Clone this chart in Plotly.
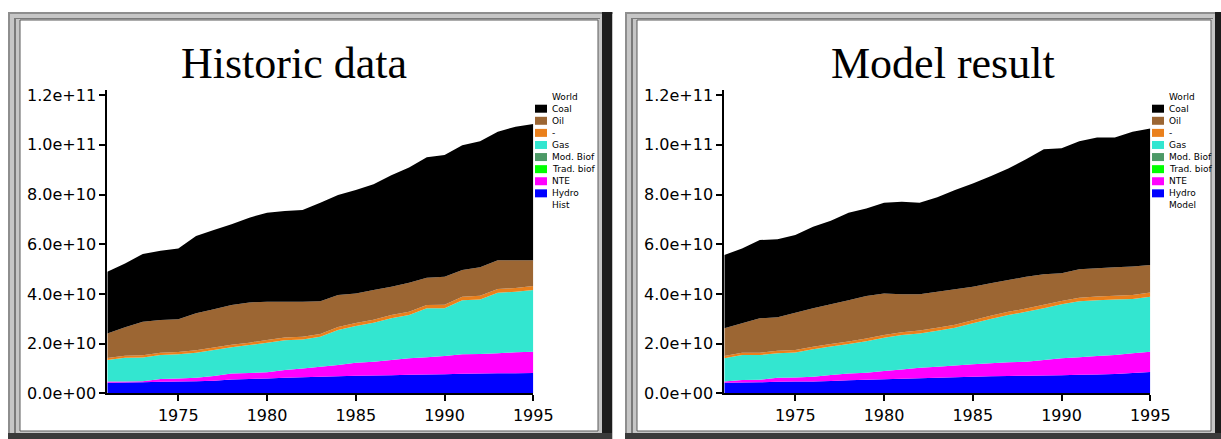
import plotly.graph_objects as go

W, H = 1221, 439
E10 = 1e10

years = list(range(1971, 1996))

# legend order (top to bottom); stacking goes the other way round
series_names = ["Coal", "Oil", "-", "Gas", "Mod. Biof", "Trad. biof", "NTE", "Hydro"]
series_colors = ["#000000", "#9c6633", "#ea801c", "#33e6d0", "#4c9966", "#00ff00", "#ff00ff", "#0000ff"]

panel_titles = ["Historic data", "Model result"]
panel_tags = ["Hist", "Model"]
legend_title = "World"

x_tick_vals = [1975, 1980, 1985, 1990, 1995]
y_tick_vals = [0, 2e10, 4e10, 6e10, 8e10, 1e11, 1.2e11]
y_tick_text = ["0.0e+00", "2.0e+10", "4.0e+10", "6.0e+10", "8.0e+10", "1.0e+11", "1.2e+11"]

# historic energy supply by carrier, in units of 1e10
hist_coal = [2.48, 2.57, 2.73, 2.79, 2.85, 3.11, 3.19, 3.26, 3.41, 3.58, 3.65, 3.69, 3.96,
             4.02, 4.16, 4.26, 4.49, 4.64, 4.85, 4.90, 5.03, 5.08, 5.17, 5.37, 5.48]
hist_oil = [0.99, 1.15, 1.35, 1.32, 1.32, 1.49, 1.54, 1.60, 1.62, 1.54, 1.44, 1.41, 1.32,
            1.29, 1.19, 1.20, 1.14, 1.17, 1.10, 1.13, 1.07, 1.14, 1.16, 1.12, 1.04]
hist_dash = [0.08, 0.08, 0.09, 0.09, 0.09, 0.10, 0.10, 0.10, 0.10, 0.11, 0.11, 0.11, 0.11,
             0.12, 0.12, 0.12, 0.13, 0.13, 0.13, 0.14, 0.14, 0.15, 0.15, 0.15, 0.16]
hist_gas = [0.87, 0.95, 0.95, 0.96, 0.97, 1.00, 1.04, 1.05, 1.12, 1.19, 1.20, 1.17, 1.21,
            1.41, 1.48, 1.57, 1.68, 1.74, 1.97, 1.92, 2.18, 2.20, 2.44, 2.44, 2.49]
hist_mod_biof = [0.0] * 25
hist_trad_biof = [0.0] * 25
hist_nte = [0.05, 0.05, 0.05, 0.12, 0.12, 0.14, 0.19, 0.24, 0.24, 0.25, 0.31, 0.35, 0.40,
            0.45, 0.52, 0.55, 0.61, 0.66, 0.69, 0.73, 0.78, 0.78, 0.80, 0.84, 0.85]
hist_hydro = [0.42, 0.43, 0.44, 0.46, 0.48, 0.49, 0.51, 0.56, 0.58, 0.60, 0.63, 0.65, 0.67,
              0.69, 0.71, 0.72, 0.73, 0.75, 0.76, 0.77, 0.79, 0.80, 0.81, 0.81, 0.82]

# model run, same carriers, units of 1e10
model_coal = [2.95, 3.01, 3.15, 3.14, 3.13, 3.28, 3.37, 3.52, 3.52, 3.65, 3.72, 3.68, 3.80,
              3.99, 4.16, 4.31, 4.49, 4.73, 5.03, 5.03, 5.16, 5.27, 5.23, 5.43, 5.50]
model_oil = [1.12, 1.19, 1.39, 1.35, 1.50, 1.55, 1.60, 1.66, 1.71, 1.67, 1.53, 1.46, 1.45,
             1.43, 1.35, 1.31, 1.28, 1.28, 1.23, 1.11, 1.14, 1.13, 1.14, 1.14, 1.10]
model_dash = [0.09, 0.09, 0.09, 0.10, 0.10, 0.10, 0.10, 0.11, 0.11, 0.11, 0.11, 0.12, 0.12,
              0.12, 0.12, 0.13, 0.13, 0.13, 0.14, 0.14, 0.14, 0.15, 0.15, 0.16, 0.17]
model_gas = [0.94, 1.00, 0.99, 0.98, 1.00, 1.10, 1.14, 1.18, 1.27, 1.34, 1.39, 1.38, 1.45,
             1.52, 1.65, 1.78, 1.90, 2.01, 2.08, 2.17, 2.26, 2.25, 2.24, 2.19, 2.22]
model_mod_biof = [0.0] * 25
model_trad_biof = [0.0] * 25
model_nte = [0.05, 0.11, 0.11, 0.17, 0.17, 0.19, 0.24, 0.27, 0.28, 0.33, 0.37, 0.42, 0.44,
             0.47, 0.50, 0.52, 0.55, 0.56, 0.62, 0.68, 0.70, 0.74, 0.76, 0.79, 0.81]
model_hydro = [0.42, 0.43, 0.44, 0.46, 0.47, 0.48, 0.50, 0.53, 0.55, 0.57, 0.59, 0.61, 0.63,
               0.65, 0.67, 0.69, 0.70, 0.71, 0.72, 0.73, 0.75, 0.76, 0.78, 0.82, 0.86]

hist_series = [hist_coal, hist_oil, hist_dash, hist_gas, hist_mod_biof, hist_trad_biof, hist_nte, hist_hydro]
model_series = [model_coal, model_oil, model_dash, model_gas, model_mod_biof, model_trad_biof, model_nte, model_hydro]

PANEL_DX = 617  # horizontal offset of the second panel, px
FRAME_RIGHT = [598, 1211]  # right edge of each panel's white face, px


def px_rect(x0, y0, x1, y1, color, line=None):
    """Rectangle in page pixels (origin top-left) -> paper-referenced shape."""
    shp = dict(type="rect", xref="paper", yref="paper", layer="below",
               x0=x0 / W, x1=x1 / W, y0=1 - y1 / H, y1=1 - y0 / H,
               fillcolor=color, line=dict(width=0))
    if line:
        shp["line"] = dict(width=1, color=line)
    return shp


fig = go.Figure()
shapes = []
annotations = []

for p, (series, title, tag) in enumerate(zip([hist_series, model_series], panel_titles, panel_tags)):
    dx = p * PANEL_DX
    fr = FRAME_RIGHT[p]
    xa = "x" if p == 0 else "x2"
    ya = "y" if p == 0 else "y2"

    # stacked areas, Hydro at the bottom and Coal on top
    for name, color, vals in reversed(list(zip(series_names, series_colors, series))):
        fig.add_trace(go.Scatter(
            x=years, y=[v * E10 for v in vals], name=name,
            mode="none", fill="tonexty", fillcolor=color,
            stackgroup=f"g{p}", xaxis=xa, yaxis=ya, showlegend=False,
            hoverinfo="skip"))

    # raised panel frame
    shapes += [
        px_rect(8 + dx, 12, fr + 15, 439, "#c6c6c6"),
        px_rect(8 + dx, 12, 10 + dx, 439, "#8e8e8e"),
        px_rect(8 + dx, 12, fr + 15, 14, "#8e8e8e"),
        px_rect(14 + dx, 18, 16 + dx, 433, "#7a7a7a"),
        px_rect(14 + dx, 18, fr + 2, 19, "#7a7a7a"),
        px_rect(fr + 4, 12, fr + 14, 439, "#1c1c1c"),
        px_rect(8 + dx, 433, fr + 14, 439, "#3a3a3a"),
        px_rect(20 + dx, 20, fr, 431, "#ffffff", line="#5a5a5a"),
    ]

    # panel title
    annotations.append(dict(
        text=title, xref="paper", yref="paper", x=(294 if p == 0 else 943) / W,
        y=1 - 64 / H, xanchor="center", yanchor="middle", showarrow=False,
        font=dict(family="Liberation Serif", size=44, color="#000000")))

    # legend block
    lx_sw, lx_tx = 535 + dx, 550 + dx
    row0, step = 108.7, 12.09
    annotations.append(dict(
        text=legend_title, xref="paper", yref="paper", x=lx_tx / W, y=1 - (row0 - step) / H,
        xanchor="left", yanchor="middle", showarrow=False,
        font=dict(family="DejaVu Sans", size=9, color="#000000")))
    for i, (name, color) in enumerate(zip(series_names, series_colors)):
        yc = row0 + i * step
        shapes.append(dict(type="rect", xref="paper", yref="paper", layer="above",
                           x0=lx_sw / W, x1=(lx_sw + 12) / W,
                           y0=1 - (yc + 4) / H, y1=1 - (yc - 4) / H,
                           fillcolor=color, line=dict(width=0)))
        annotations.append(dict(
            text=name, xref="paper", yref="paper", x=lx_tx / W, y=1 - yc / H,
            xanchor="left", yanchor="middle", showarrow=False,
            font=dict(family="DejaVu Sans", size=9, color="#000000")))
    annotations.append(dict(
        text=tag, xref="paper", yref="paper", x=lx_tx / W, y=1 - (row0 + 8 * step) / H,
        xanchor="left", yanchor="middle", showarrow=False,
        font=dict(family="DejaVu Sans", size=9, color="#000000")))

tick_font = dict(family="DejaVu Sans", size=16, color="#000000")
x_common = dict(range=[1971, 1995], tickvals=x_tick_vals, ticks="outside", ticklen=6,
                tickwidth=2, tickcolor="#000000", showline=True, linecolor="#000000",
                linewidth=2, showgrid=False, zeroline=False, tickfont=tick_font,
                automargin=False)
y_common = dict(range=[0, 1.223e11], tickvals=y_tick_vals, ticktext=y_tick_text,
                ticks="outside", ticklen=6, tickwidth=2, tickcolor="#000000",
                showline=True, linecolor="#000000", linewidth=2, showgrid=False,
                zeroline=False, tickfont=tick_font, automargin=False)

y_dom = [1 - 393.3 / H, 1 - 89.5 / H]
fig.update_layout(
    template="none",
    width=W, height=H, margin=dict(l=0, r=0, t=0, b=0, pad=0),
    paper_bgcolor="#ffffff", plot_bgcolor="rgba(0,0,0,0)",
    showlegend=False,
    xaxis=dict(domain=[107.3 / W, 533.3 / W], anchor="y", **x_common),
    yaxis=dict(domain=y_dom, anchor="x", **y_common),
    xaxis2=dict(domain=[(107.3 + PANEL_DX) / W, (533.3 + PANEL_DX) / W], anchor="y2", **x_common),
    yaxis2=dict(domain=y_dom, anchor="x2", **y_common),
    shapes=shapes, annotations=annotations,
)

fig.write_html("out.html", config={"responsive": False, "displayModeBar": False})
